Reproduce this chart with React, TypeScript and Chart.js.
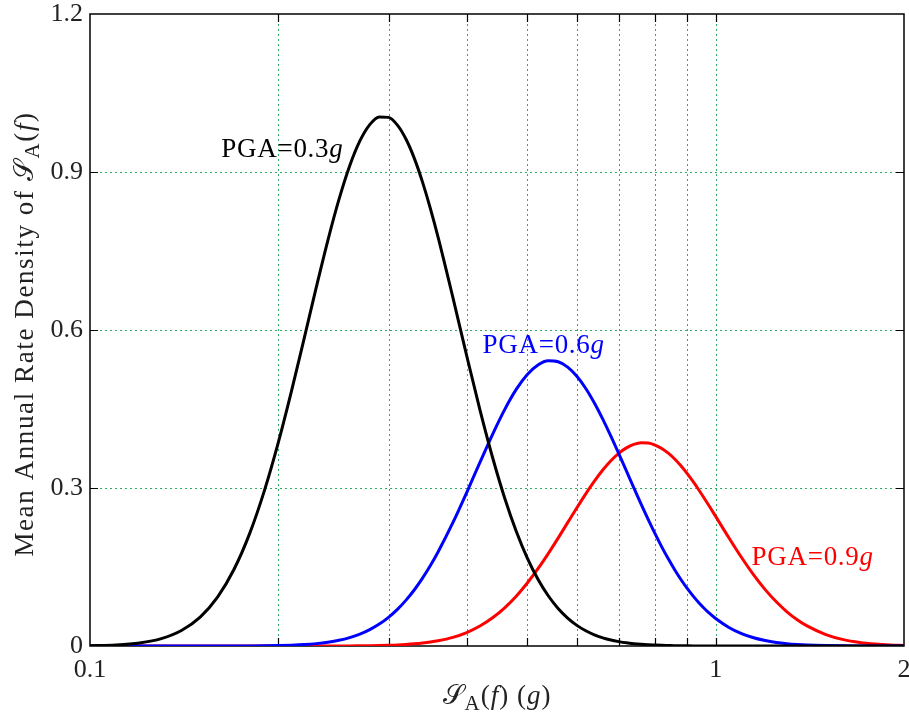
import React, { useEffect, useRef } from 'react';
import { Chart, registerables } from 'chart.js';

Chart.register(...registerables);

// Spectral acceleration S_A(f) in g (shared x values)
const SA_G = [
  0.10, 0.11, 0.12, 0.13, 0.14, 0.15, 0.16, 0.17, 0.18, 0.19,
  0.20, 0.21, 0.22, 0.23, 0.24, 0.25, 0.26, 0.27, 0.28, 0.29,
  0.30, 0.31, 0.32, 0.33, 0.34, 0.35, 0.36, 0.38, 0.40, 0.42,
  0.44, 0.46, 0.48, 0.50, 0.52, 0.54, 0.56, 0.58, 0.60, 0.62,
  0.64, 0.66, 0.68, 0.70, 0.72, 0.74, 0.76, 0.78, 0.80, 0.82,
  0.84, 0.86, 0.88, 0.90, 0.92, 0.94, 0.96, 0.98, 1.00, 1.05,
  1.10, 1.15, 1.20, 1.25, 1.30, 1.35, 1.40, 1.50, 1.60, 1.70,
  1.80, 1.90, 2.00,
];

// Mean annual rate density, PGA = 0.3g
const RATE_PGA_03 = [
  0.0006, 0.0020, 0.0058, 0.0140, 0.0294, 0.0549, 0.0933, 0.1462, 0.2139, 0.2951,
  0.3867, 0.4849, 0.5847, 0.6814, 0.7704, 0.8480, 0.9115, 0.9590, 0.9900, 1.0046,
  1.0037, 0.9889, 0.9621, 0.9254, 0.8808, 0.8305, 0.7764, 0.6629, 0.5513, 0.4483,
  0.3579, 0.2811, 0.2180, 0.1670, 0.1268, 0.0954, 0.0713, 0.0530, 0.0392, 0.0289,
  0.0212, 0.0155, 0.0113, 0.0083, 0.0060, 0.0044, 0.0032, 0.0023, 0.0017, 0.0012,
  0.0009, 0.0006, 0.0005, 0.0003, 0.0002, 0.0002, 0.0001, 0.0001, 0.0001, 0,
  0, 0, 0, 0, 0, 0, 0, 0, 0, 0,
  0, 0, 0,
];

// Mean annual rate density, PGA = 0.6g
const RATE_PGA_06 = [
  0, 0, 0, 0, 0, 0, 0, 0.0001, 0.0002, 0.0004,
  0.0009, 0.0016, 0.0027, 0.0045, 0.0072, 0.0109, 0.0160, 0.0226, 0.0312, 0.0417,
  0.0545, 0.0696, 0.0871, 0.1068, 0.1288, 0.1527, 0.1784, 0.2336, 0.2914, 0.3486,
  0.4020, 0.4489, 0.4872, 0.5156, 0.5337, 0.5416, 0.5398, 0.5296, 0.5122, 0.4890,
  0.4614, 0.4309, 0.3985, 0.3654, 0.3325, 0.3003, 0.2695, 0.2404, 0.2133, 0.1883,
  0.1655, 0.1449, 0.1263, 0.1098, 0.0951, 0.0821, 0.0708, 0.0608, 0.0521, 0.0352,
  0.0235, 0.0156, 0.0103, 0.0067, 0.0044, 0.0029, 0.0019, 0.0008, 0.0003, 0.0001,
  0.0001, 0, 0,
];

// Mean annual rate density, PGA = 0.9g
const RATE_PGA_09 = [
  0, 0, 0, 0, 0, 0, 0, 0, 0, 0,
  0, 0, 0, 0, 0.0001, 0.0001, 0.0002, 0.0004, 0.0006, 0.0009,
  0.0014, 0.0020, 0.0029, 0.0041, 0.0056, 0.0075, 0.0099, 0.0164, 0.0256, 0.0379,
  0.0535, 0.0725, 0.0946, 0.1196, 0.1468, 0.1755, 0.2049, 0.2342, 0.2624, 0.2889,
  0.3130, 0.3341, 0.3518, 0.3659, 0.3762, 0.3828, 0.3858, 0.3853, 0.3816, 0.3751,
  0.3661, 0.3550, 0.3421, 0.3277, 0.3124, 0.2962, 0.2796, 0.2629, 0.2461, 0.2054,
  0.1680, 0.1351, 0.1071, 0.0839, 0.0650, 0.0499, 0.0381, 0.0217, 0.0121, 0.0067,
  0.0037, 0.0020, 0.0011,
];

const SERIES_LABELS = ['PGA=0.3', 'PGA=0.6', 'PGA=0.9'];
const SERIES_UNIT = 'g';
const SERIES_COLORS = ['#000000', '#0000ff', '#ff0000'];

const X_TICKS = [0.1, 0.2, 0.3, 0.4, 0.5, 0.6, 0.7, 0.8, 0.9, 1, 2];
const X_GRID = [0.2, 0.3, 0.4, 0.5, 0.6, 0.7, 0.8, 0.9, 1];
const X_LABEL_VALUES = [0.1, 1, 2];
const X_LABEL_TEXTS = ['0.1', '1', '2'];
const Y_TICKS = [0, 0.3, 0.6, 0.9, 1.2];
const Y_GRID = [0.3, 0.6, 0.9];

// annotation anchors (data coordinates: x in g, y rate) -- layout only
const LABEL_ANCHORS = [
  [0.203, 0.928],
  [0.531, 0.556],
  [1.429, 0.154],
];

const FONT = '"Liberation Serif", "Times New Roman", serif';
const TEXT_COLOR = '#222222';
const GRID_COLOR = 'rgba(40,165,95,0.95)';
const FS = 26;

type Seg = { t: string; it?: boolean; sub?: boolean };

function segFont(s: Seg, size: number) {
  const sz = s.sub ? size * 0.78 : size;
  return `${s.it ? 'italic ' : ''}${sz}px ${FONT}`;
}

function drawRich(
  ctx: any,
  segs: Seg[],
  cx: number,
  baseline: number,
  size: number,
  color: string,
  spacing: number
) {
  ctx.letterSpacing = `${spacing}px`;
  let total = 0;
  const widths = segs.map((s) => {
    ctx.font = segFont(s, size);
    const w = ctx.measureText(s.t).width;
    total += w;
    return w;
  });
  let x = cx - total / 2;
  ctx.fillStyle = color;
  ctx.textBaseline = 'alphabetic';
  ctx.textAlign = 'left';
  segs.forEach((s, i) => {
    ctx.font = segFont(s, size);
    ctx.fillText(s.t, x, baseline + (s.sub ? size * 0.22 : 0));
    x += widths[i];
  });
  ctx.letterSpacing = '0px';
}

const Y_TITLE: Seg[] = [
  { t: 'Mean Annual Rate Density of ' },
  { t: '𝒮' },
  { t: 'A', sub: true },
  { t: '(' },
  { t: 'f', it: true },
  { t: ')' },
];
const X_TITLE: Seg[] = [
  { t: '𝒮' },
  { t: 'A', sub: true },
  { t: '(' },
  { t: 'f', it: true },
  { t: ') (' },
  { t: 'g', it: true },
  { t: ')' },
];

const overlayPlugin = {
  id: 'overlay',
  beforeDatasetsDraw(chart: any) {
    const { ctx, chartArea, scales } = chart;
    const { left, right, top, bottom } = chartArea;
    const xs = scales.x;
    const ys = scales.y;
    ctx.save();
    ctx.strokeStyle = GRID_COLOR;
    ctx.lineWidth = 1;
    ctx.setLineDash([2, 3]);
    X_GRID.forEach((v) => {
      const px = Math.round(xs.getPixelForValue(v)) + 0.5;
      ctx.beginPath();
      ctx.moveTo(px, top);
      ctx.lineTo(px, bottom);
      ctx.stroke();
    });
    Y_GRID.forEach((v) => {
      const py = Math.round(ys.getPixelForValue(v)) + 0.5;
      ctx.beginPath();
      ctx.moveTo(left, py);
      ctx.lineTo(right, py);
      ctx.stroke();
    });

    // axes frame and inward tick marks (beneath the data lines)
    ctx.setLineDash([]);
    ctx.strokeStyle = '#000';
    ctx.lineWidth = 1.5;
    ctx.strokeRect(left, top, right - left, bottom - top);
    const TL = 8;
    ctx.lineWidth = 1.2;
    X_GRID.forEach((v) => {
      const px = Math.round(xs.getPixelForValue(v)) + 0.5;
      ctx.beginPath();
      ctx.moveTo(px, bottom);
      ctx.lineTo(px, bottom - TL);
      ctx.moveTo(px, top);
      ctx.lineTo(px, top + TL);
      ctx.stroke();
    });
    Y_GRID.forEach((v) => {
      const py = Math.round(ys.getPixelForValue(v)) + 0.5;
      ctx.beginPath();
      ctx.moveTo(left, py);
      ctx.lineTo(left + TL, py);
      ctx.moveTo(right, py);
      ctx.lineTo(right - TL, py);
      ctx.stroke();
    });
    ctx.restore();
  },
  afterDatasetsDraw(chart: any) {
    const { ctx, scales } = chart;
    const xs = scales.x;
    const ys = scales.y;
    ctx.save();

    // series labels
    LABEL_ANCHORS.forEach((a, i) => {
      const px = xs.getPixelForValue(a[0]);
      const py = ys.getPixelForValue(a[1]);
      drawRich(ctx, [{ t: SERIES_LABELS[i] }, { t: SERIES_UNIT, it: true }], px, py, 27, SERIES_COLORS[i], 0.7);
    });

    // axis titles
    drawRich(ctx, X_TITLE, 497, 704, 27, TEXT_COLOR, 1);
    ctx.save();
    ctx.translate(33, 334);
    ctx.rotate(-Math.PI / 2);
    drawRich(ctx, Y_TITLE, 0, 0, 27, TEXT_COLOR, 1.6);
    ctx.restore();

    ctx.restore();
  },
};

export default function App() {
  const ref = useRef<HTMLCanvasElement>(null);
  useEffect(() => {
    if (!ref.current) return;
    const mk = (vals: number[]) => SA_G.map((x, i) => ({ x, y: vals[i] }));
    const datasets = [RATE_PGA_03, RATE_PGA_06, RATE_PGA_09].map((vals, i) => ({
      label: SERIES_LABELS[i] + SERIES_UNIT,
      data: mk(vals),
      borderColor: SERIES_COLORS[i],
      backgroundColor: SERIES_COLORS[i],
      borderWidth: 3,
      pointRadius: 0,
      fill: false,
      cubicInterpolationMode: 'monotone' as const,
    }));
    const chart = new Chart(ref.current, {
      type: 'line',
      data: { datasets },
      options: {
        animation: false,
        responsive: false,
        maintainAspectRatio: false,
        layout: { padding: { top: 14, right: 5, left: 0, bottom: 0 } },
        plugins: { legend: { display: false }, tooltip: { enabled: false } },
        scales: {
          x: {
            type: 'logarithmic',
            min: 0.1,
            max: 2,
            afterBuildTicks: (s: any) => {
              s.ticks = X_TICKS.map((value) => ({ value }));
            },
            afterFit: (s: any) => {
              s.height = 69;
              s.paddingLeft = 0;
              s.paddingRight = 0;
            },
            grid: { display: false, drawTicks: false },
            border: { display: false },
            ticks: {
              autoSkip: false,
              maxRotation: 0,
              minRotation: 0,
              padding: 9,
              color: TEXT_COLOR,
              font: { family: FONT, size: FS },
              callback: (v: any) => {
                const i = X_LABEL_VALUES.findIndex((t) => Math.abs(t - Number(v)) < 1e-9);
                return i >= 0 ? X_LABEL_TEXTS[i] : '';
              },
            },
          },
          y: {
            type: 'linear',
            min: 0,
            max: 1.2,
            afterBuildTicks: (s: any) => {
              s.ticks = Y_TICKS.map((value) => ({ value }));
            },
            afterFit: (s: any) => {
              s.width = 90;
              s.paddingTop = 0;
              s.paddingBottom = 0;
            },
            grid: { display: false, drawTicks: false },
            border: { display: false },
            ticks: {
              padding: 7,
              color: TEXT_COLOR,
              font: { family: FONT, size: FS },
              callback: (v: any) => (Math.abs(Number(v)) < 1e-9 ? '0' : Number(v).toFixed(1)),
            },
          },
        },
      },
      plugins: [overlayPlugin],
    } as any);
    return () => chart.destroy();
  }, []);
  return (
    <div style={{ position: 'absolute', left: 0, top: 0, width: 909, height: 715, background: '#fff' }}>
      <canvas ref={ref} width={909} height={715} style={{ display: 'block', width: 909, height: 715 }} />
    </div>
  );
}
